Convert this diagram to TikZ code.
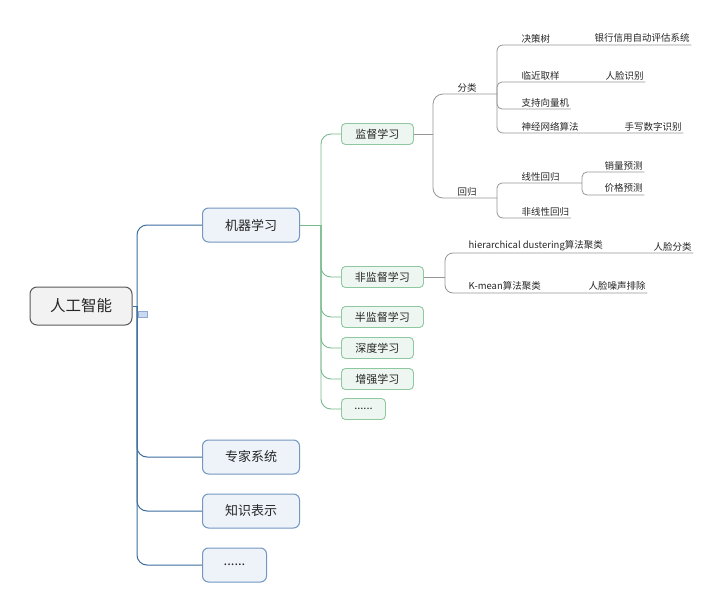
\documentclass[tikz,border=0pt]{standalone}
\usepackage{fontspec}
\setmainfont{Noto Sans CJK SC}
\definecolor{rootdraw}{HTML}{595959}
\definecolor{rootfill}{HTML}{F2F2F2}
\definecolor{lonedraw}{HTML}{7397C2}
\definecolor{lonefill}{HTML}{EEF3FA}
\definecolor{conone}{HTML}{3B6D9E}
\definecolor{ltwodraw}{HTML}{8FC7A1}
\definecolor{ltwofill}{HTML}{EDF6F0}
\definecolor{contwo}{HTML}{78B98D}
\definecolor{conthree}{HTML}{959595}
\definecolor{txt}{HTML}{262626}
\definecolor{iconfill}{HTML}{C9DAF0}
\definecolor{icondraw}{HTML}{8EAAD2}
\begin{document}
\begin{tikzpicture}[x=1pt,y=-1pt,
  rootbox/.style={draw=rootdraw,fill=rootfill,line width=1pt,rounded corners=7pt,
    minimum width=102pt,minimum height=38pt,text=txt,font=\fontsize{15.5}{18}\selectfont},
  lonebox/.style={draw=lonedraw,fill=lonefill,line width=1pt,rounded corners=6pt,anchor=west,
    minimum width=97pt,minimum height=34pt,text=txt,font=\fontsize{13}{15}\selectfont},
  ltwobox/.style={draw=ltwodraw,fill=ltwofill,line width=0.9pt,rounded corners=4pt,anchor=west,
    minimum width=72pt,minimum height=21pt,text=txt,font=\fontsize{11}{13}\selectfont},
  leaf/.style={anchor=south west,inner xsep=1.5pt,inner ysep=2pt,text=txt,
    font=\fontsize{9.5}{11}\selectfont},
  cone/.style={draw=conone,line width=1pt},
  ctwo/.style={draw=contwo,line width=0.9pt},
  cthree/.style={draw=conthree,line width=0.8pt},
]
\useasboundingbox (0,0) rectangle (724,611);

% root and level 1
\node[rootbox] (root) at (81,306) {人工智能};
\node[lonebox] (ml) at (202,225) {机器学习};
\node[lonebox] (es) at (202,457) {专家系统};
\node[lonebox] (kr) at (202,511) {知识表示};
\node[lonebox,minimum width=64pt] (dotsone) at (202,565) {......};
\node[draw=icondraw,fill=iconfill,line width=0.7pt,minimum width=9pt,minimum height=6.5pt,inner sep=0pt] (collapse) at (143,314.5) {};

% level 2
\node[ltwobox] (sup) at (341,134) {监督学习};
\node[ltwobox,minimum width=82pt] (uns) at (341,277) {非监督学习};
\node[ltwobox,minimum width=82pt] (semi) at (341,317) {半监督学习};
\node[ltwobox] (deep) at (341,348) {深度学习};
\node[ltwobox] (rein) at (341,379) {增强学习};
\node[ltwobox,minimum width=44pt] (dotstwo) at (341,409) {......};

% leaves
\node[leaf] (fl) at (456,94) {分类};
\node[leaf] (hg) at (456,198) {回归};
\node[leaf] (dt) at (520,45) {决策树};
\node[leaf] (bank) at (593,45) {银行信用自动评估系统};
\node[leaf] (lj) at (520,82) {临近取样};
\node[leaf] (faceid) at (604,82) {人脸识别};
\node[leaf] (svm) at (520,109) {支持向量机};
\node[leaf] (nn) at (520,133) {神经网络算法};
\node[leaf] (hw) at (623,133) {手写数字识别};
\node[leaf] (lin) at (520,183) {线性回归};
\node[leaf] (sales) at (603,172) {销量预测};
\node[leaf] (price) at (603,195) {价格预测};
\node[leaf] (nonlin) at (520,218) {非线性回归};
\node[leaf] (hc) at (467,253) {hierarchical dustering算法聚类};
\node[leaf] (fc) at (652,253) {人脸分类};
\node[leaf] (km) at (467,293) {K-mean算法聚类};
\node[leaf] (fn) at (587,293) {人脸噪声排除};

% junctions
\coordinate (jone) at (137,306);
\coordinate (jtwo) at (321,225);
\coordinate (jthree) at (433,134);
\coordinate (jfour) at (497,94);
\coordinate (jfive) at (497,198);
\coordinate (jsix) at (582,183);
\coordinate (jseven) at (445,277);

% level 1 connectors
\draw[cone] (root.east) -- (jone);
\draw[cone,rounded corners=10pt] (jone) |- (ml.west);
\draw[cone,rounded corners=10pt] (jone) |- (es.west);
\draw[cone,rounded corners=10pt] (jone) |- (kr.west);
\draw[cone,rounded corners=10pt] (jone) |- (dotsone.west);

% level 2 connectors
\draw[ctwo] (ml.east) -- (jtwo);
\draw[ctwo,rounded corners=10pt] (jtwo) |- (sup.west);
\draw[ctwo,rounded corners=10pt] (jtwo) |- (uns.west);
\draw[ctwo,rounded corners=10pt] (jtwo) |- (semi.west);
\draw[ctwo,rounded corners=10pt] (jtwo) |- (deep.west);
\draw[ctwo,rounded corners=10pt] (jtwo) |- (rein.west);
\draw[ctwo,rounded corners=10pt] (jtwo) |- (dotstwo.west);

% level 3 connectors
\draw[cthree] (sup.east) -- (jthree);
\draw[cthree,rounded corners=10pt] (jthree) |- (fl.south west) -- (jfour);
\draw[cthree,rounded corners=10pt] (jthree) |- (hg.south west) -- (jfive);
\draw[cthree,rounded corners=6pt] (jfour) |- (dt.south west) -- (bank.south east);
\draw[cthree,rounded corners=5pt] (jfour) |- (lj.south west) -- (faceid.south east);
\draw[cthree,rounded corners=5pt] (jfour) |- (svm.south east);
\draw[cthree,rounded corners=6pt] (jfour) |- (nn.south west) -- (hw.south east);
\draw[cthree,rounded corners=5pt] (jfive) |- (lin.south west) -- (jsix);
\draw[cthree,rounded corners=6pt] (jfive) |- (nonlin.south east);
\draw[cthree,rounded corners=5pt] (jsix) |- (sales.south east);
\draw[cthree,rounded corners=5pt] (jsix) |- (price.south east);
\draw[cthree] (uns.east) -- (jseven);
\draw[cthree,rounded corners=8pt] (jseven) |- (hc.south west) -- (fc.south east);
\draw[cthree,rounded corners=8pt] (jseven) |- (km.south west) -- (fn.south east);
\end{tikzpicture}
\end{document}
